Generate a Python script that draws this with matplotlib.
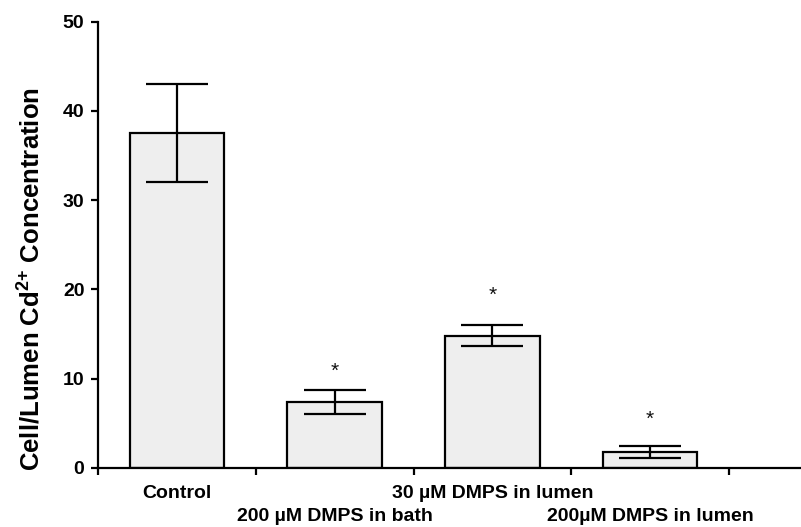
import matplotlib.pyplot as plt

plt.rcParams['font.family'] = ['Liberation Sans', 'DejaVu Sans']
plt.rcParams['mathtext.fontset'] = 'custom'
plt.rcParams['mathtext.rm'] = 'Liberation Sans:bold'
plt.rcParams['mathtext.bf'] = 'Liberation Sans:bold'

# group labels, means and SEM
groups = ['Control', '200 µM DMPS in bath', '30 µM DMPS in lumen', '200µM DMPS in lumen']
means = [37.5, 7.4, 14.8, 1.8]
errors = [5.5, 1.35, 1.2, 0.68]
# significance markers (height of the star, None = no marker)
star_y = [None, 10.8, 19.3, 5.4]

fig = plt.figure(figsize=(8.01, 5.27), dpi=100)
ax = fig.add_axes([0.1227, 0.1125, 0.876, 0.8463])

x = list(range(len(groups)))
ax.bar(x, means, width=0.6, color='#eeeeee', edgecolor='black', linewidth=1.6, zorder=2)
ax.errorbar(x, means, yerr=errors, fmt='none', ecolor='black', elinewidth=1.6,
            capsize=22.5, capthick=1.6, zorder=3)

for xi, sy in zip(x, star_y):
    if sy is not None:
        ax.text(xi, sy, '*', ha='center', va='center', fontsize=15, color='#111111')

ax.set_xlim(-0.5, 3.95)
ax.set_ylim(0, 50)
ax.set_yticks([0, 10, 20, 30, 40, 50])
ax.tick_params(axis='y', direction='out', length=5, width=1.6, pad=5, labelsize=14)
for lab in ax.get_yticklabels():
    lab.set_fontweight('bold')

# tick marks sit on the group boundaries
ax.set_xticks([-0.5, 0.5, 1.5, 2.5, 3.5])
ax.set_xticklabels([])
ax.tick_params(axis='x', direction='out', length=5, width=1.6)

# group names on two staggered rows
trans = ax.get_xaxis_transform()
for i, g in enumerate(groups):
    row_y = -0.068 if i % 2 == 0 else -0.12
    ax.text(x[i], row_y, g, transform=trans, ha='center', va='baseline',
            fontsize=14, fontweight='bold')

ax.set_ylabel(r'Cell/Lumen Cd$^{2{+}}$ Concentration', fontsize=18.5, fontweight='bold')
ax.yaxis.set_label_coords(-0.077, 0.423)

for side in ['top', 'right']:
    ax.spines[side].set_visible(False)
for side in ['left', 'bottom']:
    ax.spines[side].set_linewidth(1.6)

fig.savefig('out.png', dpi=100)
